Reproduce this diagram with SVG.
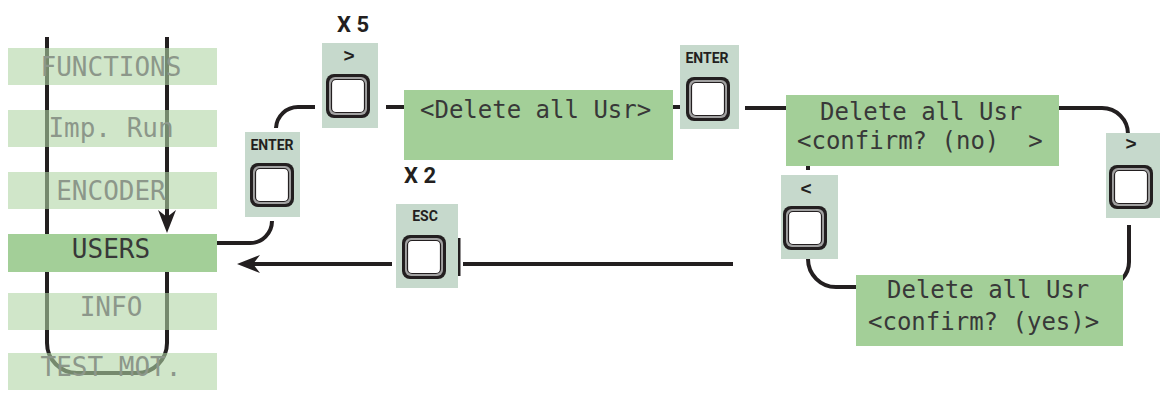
<svg xmlns="http://www.w3.org/2000/svg" xmlns:xlink="http://www.w3.org/1999/xlink" width="1160" height="394" viewBox="0 0 1160 394">
<style>
.ln{fill:none;stroke:#231f20;stroke-width:4}
.mi{fill:#afd5a3;fill-opacity:0.59}
.ms{fill:#a3cf98}
.lcd{font-family:"DejaVu Sans Mono","Liberation Mono",monospace;font-size:24px;fill:#383838}
.mt{font-family:"DejaVu Sans Mono","Liberation Mono",monospace;font-size:26px;fill:#8c978a;text-anchor:middle}
.mta{fill:#383838}
.pan{fill:#c6d9cc}
.kl{font-family:"Liberation Sans Narrow","Roboto","Liberation Sans",sans-serif;font-weight:bold;font-size:14px;fill:#231f20;text-anchor:middle}
.ch{font-family:"Liberation Sans","Arial",sans-serif;font-weight:bold;font-size:19px;fill:#231f20;text-anchor:middle}
.cnt{font-family:"Liberation Sans Narrow","Roboto","Liberation Sans",sans-serif;font-weight:bold;font-size:22px;fill:#231f20;text-anchor:middle}
</style>
<defs>
<marker id="ah" viewBox="0 0 23 18" refX="15" refY="9" markerWidth="23" markerHeight="18" markerUnits="userSpaceOnUse" orient="auto">
<path d="M0,0 L23,9 L0,18 L7,9 Z" fill="#231f20"/>
</marker>
<g id="key">
<rect x="0" y="0" width="44" height="44" rx="8" fill="#231f20"/>
<rect x="3" y="3" width="38" height="38" rx="6" fill="#a2a2a2"/>
<rect x="5.5" y="5.5" width="33" height="33" rx="4.5" fill="#fff" stroke="#231f20" stroke-width="1.2"/>
</g>
</defs>
<rect width="1160" height="394" fill="#fff"/>

<g id="connectors">
<path class="ln" d="M47,37 V343 A30,30 0 0 0 77,373 H137 A30,30 0 0 0 167,343 V272"/>
<path class="ln" d="M167,37 V225" marker-end="url(#ah)"/>
<path class="ln" d="M217,243 H250 A22,22 0 0 0 272,221"/>
<path class="ln" d="M276,128 A22,22 0 0 1 298,107 H315"/>
<path class="ln" d="M386,107 H404"/>
<path class="ln" d="M673,107 H680"/>
<path class="ln" d="M745,108 H786"/>
<path class="ln" d="M1059,108 H1102 A26,26 0 0 1 1128,134"/>
<path class="ln" d="M1129,225 V262 A24,24 0 0 1 1105,286"/>
<path class="ln" d="M856,287 H836 A28,28 0 0 1 808,259"/>
<path class="ln" d="M808,170 V160"/>
<path class="ln" d="M733,264 H463"/>
<path class="ln" d="M459,238 V276" style="stroke-width:3"/>
<path class="ln" d="M392,264 H245" marker-end="url(#ah)"/>
</g>

<g id="menu-functions"><rect class="mi" x="8" y="48" width="209" height="37"/><text class="mt" x="111" y="76">FUNCTIONS</text></g>
<g id="menu-imprun"><rect class="mi" x="8" y="110" width="209" height="37"/><text class="mt" x="111" y="137">Imp. Run</text></g>
<g id="menu-encoder"><rect class="mi" x="8" y="172" width="209" height="37"/><text class="mt" x="111" y="200">ENCODER</text></g>
<g id="menu-users"><rect class="ms" x="8" y="234" width="209" height="38"/><text class="mt mta" x="111" y="258">USERS</text></g>
<g id="menu-info"><rect class="mi" x="8" y="293" width="209" height="37"/><text class="mt" x="111" y="316">INFO</text></g>
<g id="menu-testmot"><rect class="mi" x="8" y="353" width="209" height="37"/><text class="mt" x="111" y="376">TEST MOT.</text></g>

<g id="key-enter-1"><rect class="pan" x="245" y="132" width="55" height="85"/><text class="kl" x="272" y="150">ENTER</text><use xlink:href="#key" x="250" y="163"/></g>
<g id="key-right-1"><text class="cnt" x="353" y="32">X 5</text><rect class="pan" x="322" y="43" width="56" height="85"/><text class="ch" x="349" y="62">&gt;</text><use xlink:href="#key" x="326" y="74"/></g>
<g id="lcd-delete"><rect class="ms" x="404" y="90" width="269" height="70"/><text class="lcd" x="420" y="118">&lt;Delete all Usr&gt;</text></g>
<g id="key-enter-2"><rect class="pan" x="680" y="45" width="59" height="84"/><text class="kl" x="707" y="63">ENTER</text><use xlink:href="#key" x="686" y="77"/></g>
<g id="lcd-no"><rect class="ms" x="786" y="95" width="273" height="71"/><text class="lcd" x="820" y="120">Delete all Usr</text><text class="lcd" x="797" y="149" xml:space="preserve">&lt;confirm? (no)  &gt;</text></g>
<g id="key-right-2"><rect class="pan" x="1106" y="133" width="54" height="85"/><text class="ch" x="1131" y="150">&gt;</text><use xlink:href="#key" x="1109" y="165"/></g>
<g id="key-left"><rect class="pan" x="781" y="175" width="57" height="84"/><text class="ch" x="806" y="195">&lt;</text><use xlink:href="#key" x="783" y="206"/></g>
<g id="lcd-yes"><rect class="ms" x="856" y="275" width="267" height="71"/><text class="lcd" x="887" y="298">Delete all Usr</text><text class="lcd" x="868" y="330">&lt;confirm? (yes)&gt;</text></g>
<g id="key-esc"><text class="cnt" x="420" y="183">X 2</text><rect class="pan" x="396" y="204" width="62" height="84"/><text class="kl" x="425" y="221">ESC</text><use xlink:href="#key" x="402" y="235"/></g>
</svg>
